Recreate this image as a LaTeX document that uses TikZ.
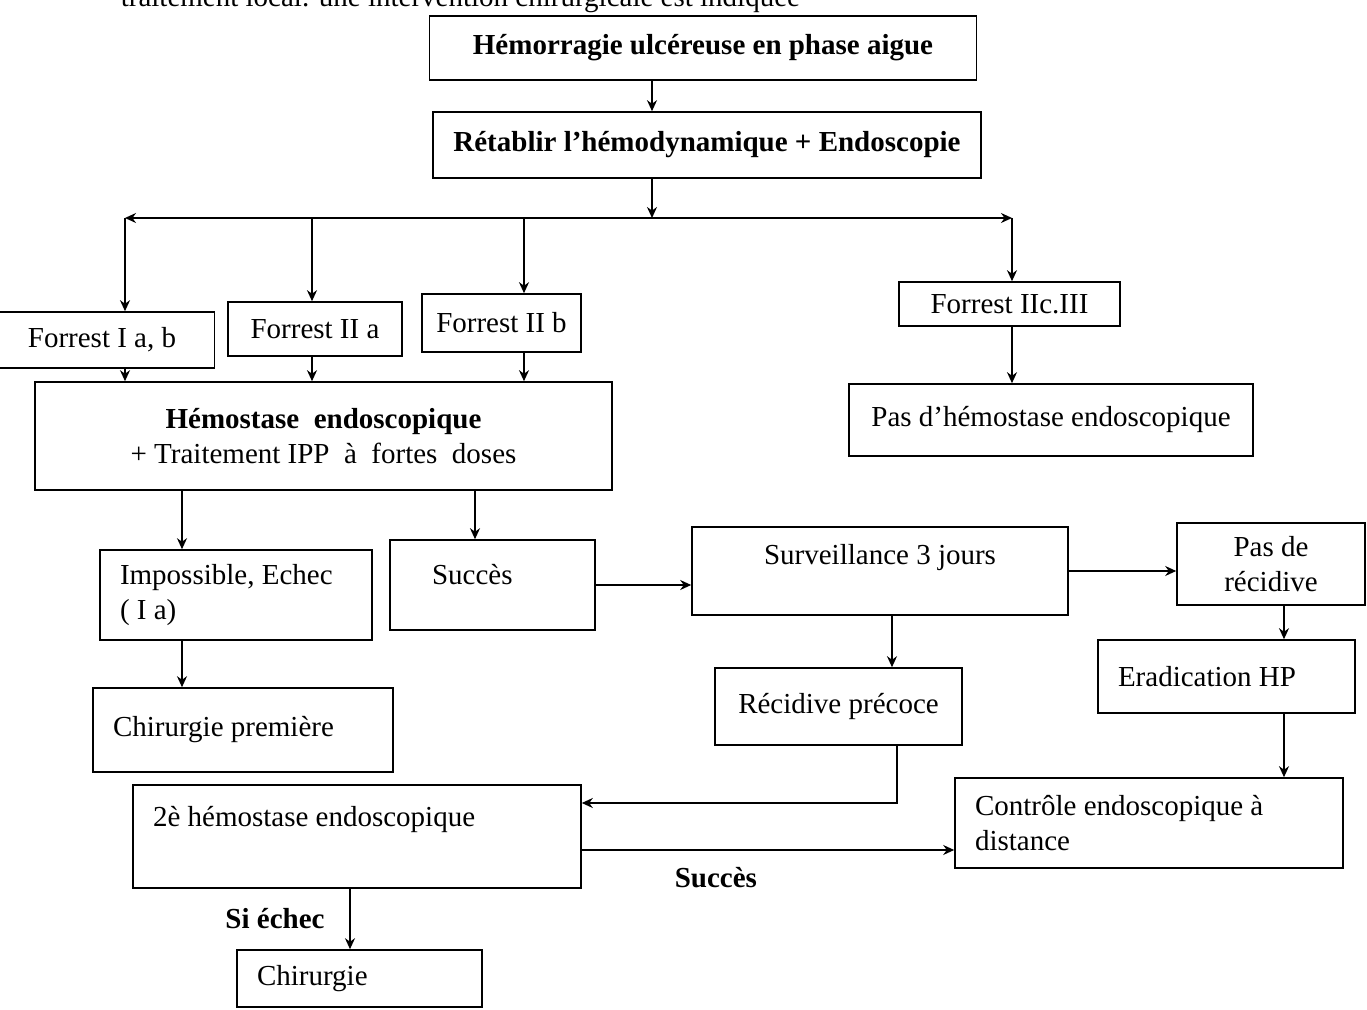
\documentclass[tikz,border=0pt]{standalone}
\usepackage{fontspec}
\setmainfont{Liberation Serif}
\usetikzlibrary{arrows.meta,positioning}
\newcommand\boxfont{\fontsize{14.5}{17.5}\selectfont}

\begin{document}
\begin{tikzpicture}[x=0.5pt, y=-0.5pt, line width=0.8pt,
        >={Stealth[length=5.5pt,width=5pt]},
        box/.style={draw, font=\boxfont, align=center},
        lbox/.style={draw, font=\boxfont, align=flush left, inner xsep=10pt},
        lab/.style={font=\boxfont\bfseries}]
\useasboundingbox (0,0) rectangle (1367,1010);

\node[anchor=base west, font=\boxfont, inner sep=0pt] (intro) at (120,7)
    {traitement local. une intervention chirurgicale est indiquée};

\node[box, minimum width=273.5pt, minimum height=32pt] (top) at (703,48)
    {\textbf{Hémorragie ulcéreuse en phase aigue}};
\node[box, minimum width=274pt, minimum height=33pt] (reta) at (707,145)
    {\textbf{Rétablir l’hémodynamique + Endoscopie}};

\node[box, minimum width=112.5pt, minimum height=28pt] (f1) at (102,340) {Forrest I a, b};
\node[box, minimum width=87pt, minimum height=27pt] (f2) at (315,329) {Forrest II a};
\node[box, minimum width=79.5pt, minimum height=29pt] (f3) at (501.5,323) {Forrest II b};
\node[box, minimum width=110.5pt, minimum height=22pt] (f4) at (1009.5,304) {Forrest IIc.III};

\node[box, minimum width=288.5pt, minimum height=54pt] (hemo) at (323.5,436)
    {\textbf{Hémostase\ \ endoscopique}\\+ Traitement IPP\ \ à\ \ fortes\ \ doses};
\node[box, minimum width=202pt, minimum height=36pt] (pash) at (1051,420)
    {Pas d’hémostase endoscopique};

\node[lbox, text width=116pt, minimum height=45pt] (imp) at (236,595)
    {Impossible, Echec\\( I a)};
\node[lbox, inner xsep=21pt, text width=60.5pt, minimum height=45pt,
    text height=11pt, text depth=11pt] (succ) at (492.5,585) {Succès};
\node[box, minimum width=188pt, minimum height=44pt,
    text height=10pt, text depth=16pt] (surv) at (880,571) {Surveillance 3 jours};
\node[box, minimum width=94pt, minimum height=41pt] (pasr) at (1271,564)
    {Pas de\\récidive};
\node[lbox, text width=108.5pt, minimum height=36.5pt] (erad) at (1226.5,676.5)
    {Eradication HP};
\node[box, minimum width=123.5pt, minimum height=38.5pt] (recp) at (838.5,706.5)
    {Récidive précoce};
\node[lbox, text width=130pt, minimum height=42pt] (chir1) at (243,730)
    {Chirurgie première};
\node[lbox, text width=174pt, minimum height=45pt] (ctrl) at (1149,823)
    {Contrôle endoscopique à\\distance};
\node[lbox, text width=204pt, minimum height=51.5pt,
    text height=10pt, text depth=19.5pt] (h2) at (357,836.5)
    {2è hémostase endoscopique};
\node[lbox, text width=102.5pt, minimum height=28.5pt] (chir) at (359.5,978.5)
    {Chirurgie};

% points where the lines turn
\coordinate (sp) at (652,218);
\coordinate (bl) at (125,218);
\coordinate (br) at (1012,218);
\coordinate (k2) at (312,218);
\coordinate (k3) at (524,218);
\coordinate (k5) at (182,0);
\coordinate (k6) at (475,0);
\coordinate (k7) at (892,0);
\coordinate (k8) at (1284,0);
\coordinate (k9) at (350,0);
\coordinate (kr) at (897,803);
\coordinate (ks) at (0,850);

\draw[->] (top.south -| sp) -- (reta.north -| sp);
\draw[->] (reta.south -| sp) -- (sp);
\draw[->] (sp) -- (bl);
\draw[->] (sp) -- (br);
\draw[->] (bl) -- (f1.north -| bl);
\draw[->] (k2) -- (f2.north -| k2);
\draw[->] (k3) -- (f3.north -| k3);
\draw[->] (br) -- (f4.north -| br);

\draw[->] (f1.south -| bl) -- (hemo.north -| bl);
\draw[->] (f2.south -| k2) -- (hemo.north -| k2);
\draw[->] (f3.south -| k3) -- (hemo.north -| k3);
\draw[->] (f4.south -| br) -- (pash.north -| br);

\draw[->] (hemo.south -| k5) -- (imp.north -| k5);
\draw[->] (hemo.south -| k6) -- (succ.north -| k6);
\draw[->] (imp.south -| k5) -- (chir1.north -| k5);
\draw[->] (succ.east) -- (surv.west |- succ.east);
\draw[->] (surv.east) -- (pasr.west |- surv.east);
\draw[->] (surv.south -| k7) -- (recp.north -| k7);
\draw[->] (pasr.south -| k8) -- (erad.north -| k8);
\draw[->] (erad.south -| k8) -- (ctrl.north -| k8);

\draw[->] (recp.south -| kr) -- (kr) -- (h2.east |- kr);
\draw[->] (h2.east |- ks) -- (ctrl.west |- ks)
    node[lab, pos=0.36, below=5pt] (ls) {Succès};
\draw[->] (h2.south -| k9) -- (chir.north -| k9)
    node[lab, midway, left=9pt] (le) {Si échec};

\end{tikzpicture}
\end{document}
